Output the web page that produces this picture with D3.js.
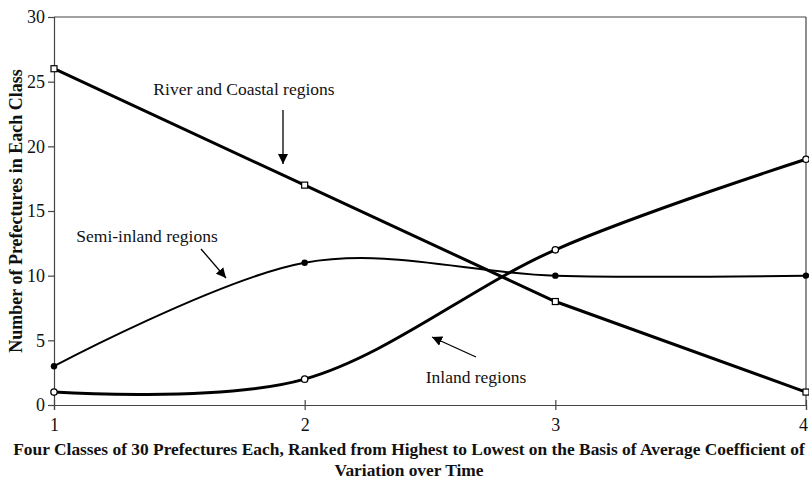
<!DOCTYPE html>
<html>
<head>
<meta charset="utf-8">
<script src="https://cdn.jsdelivr.net/npm/d3@7"></script>
<style>
body{margin:0;background:#fff;}
svg{display:block;}
text{font-family:"Liberation Serif","Times New Roman",serif;fill:#111;}
</style>
</head>
<body>
<svg id="chart" width="809" height="479"></svg>
<script>
const classes = [1, 2, 3, 4];
const riverCoastal = [26, 17, 8, 1];
const semiInland = [3, 11, 10, 10];
const inland = [1, 2, 12, 19];
const yTicks = [0, 5, 10, 15, 20, 25, 30];
const yTitle = "Number of Prefectures in Each Class";
const xTitle1 = "Four Classes of 30 Prefectures Each, Ranked from Highest to Lowest on the Basis of Average Coefficient of";
const xTitle2 = "Variation over Time";

const svg = d3.select("#chart");
const x = d3.scaleLinear().domain([1, 4]).range([54, 806]);
const y = d3.scaleLinear().domain([0, 30]).range([405, 17]);

// frame
svg.append("line").attr("x1", 54).attr("x2", 806).attr("y1", y(30)).attr("y2", y(30)).attr("stroke", "#444").attr("stroke-width", 1.2);
svg.append("line").attr("x1", x(4)).attr("x2", x(4)).attr("y1", y(30)).attr("y2", y(0)).attr("stroke", "#444").attr("stroke-width", 1.2);

// y axis
const yAxis = svg.append("g").attr("transform", `translate(${x(1)},0)`)
  .call(d3.axisLeft(y).tickValues(yTicks).tickSize(6).tickPadding(3));
yAxis.select(".domain").attr("stroke", "#444").attr("stroke-width", 1.2);
yAxis.selectAll(".tick line").attr("stroke", "#444").attr("stroke-width", 1.2);
yAxis.selectAll("text").style("font-size", "18px").style("font-family", "Liberation Serif").attr("fill", "#111");

// x axis
const xAxis = svg.append("g").attr("transform", `translate(0,${y(0)})`)
  .call(d3.axisBottom(x).tickValues(classes).tickFormat(d3.format("d")).tickSize(5).tickPadding(8));
xAxis.select(".domain").attr("stroke", "#444").attr("stroke-width", 1.2);
xAxis.selectAll(".tick line").attr("y1", -5).attr("stroke", "#444").attr("stroke-width", 1.2);
xAxis.selectAll("text").style("font-size", "18px").style("font-family", "Liberation Serif").attr("fill", "#111")
  .attr("dx", d => d === 4 ? -3 : 0);

// series
const straight = d3.line().x((d, i) => x(classes[i])).y(d => y(d));
const smooth = d3.line().x((d, i) => x(classes[i])).y(d => y(d)).curve(d3.curveCatmullRom.alpha(0));

svg.append("path").datum(riverCoastal).attr("d", straight).attr("fill", "none").attr("stroke", "#000").attr("stroke-width", 3);
svg.append("path").datum(semiInland).attr("d", smooth).attr("fill", "none").attr("stroke", "#000").attr("stroke-width", 2);
svg.append("path").datum(inland).attr("d", smooth).attr("fill", "none").attr("stroke", "#000").attr("stroke-width", 3);

// markers
svg.selectAll(".sq").data(riverCoastal).enter().append("rect")
  .attr("x", (d, i) => x(classes[i]) - 3).attr("y", d => y(d) - 3)
  .attr("width", 6).attr("height", 6).attr("fill", "#fff").attr("stroke", "#000").attr("stroke-width", 1.2);
svg.selectAll(".dm").data(semiInland).enter().append("circle")
  .attr("cx", (d, i) => x(classes[i])).attr("cy", d => y(d)).attr("r", 3.2).attr("fill", "#000");
svg.selectAll(".ci").data(inland).enter().append("circle")
  .attr("cx", (d, i) => x(classes[i])).attr("cy", d => y(d)).attr("r", 3.2).attr("fill", "#fff").attr("stroke", "#000").attr("stroke-width", 1.3);

// arrow marker
const defs = svg.append("defs");
defs.append("marker").attr("id", "ah").attr("viewBox", "0 0 10 10").attr("refX", 10).attr("refY", 5)
  .attr("markerWidth", 10).attr("markerHeight", 10).attr("markerUnits", "userSpaceOnUse").attr("orient", "auto")
  .append("path").attr("d", "M0,0 L10,5 L0,10 Z").attr("fill", "#000");

function arrow(x1, y1, x2, y2) {
  svg.append("line").attr("x1", x1).attr("y1", y1).attr("x2", x2).attr("y2", y2)
    .attr("stroke", "#000").attr("stroke-width", 1.3).attr("marker-end", "url(#ah)");
}

// annotations
svg.append("text").attr("x", 244).attr("y", 95).attr("text-anchor", "middle").style("font-size", "17.5px").text("River and Coastal regions");
arrow(283, 110, 283, 164);
svg.append("text").attr("x", 147).attr("y", 242).attr("text-anchor", "middle").style("font-size", "17.5px").text("Semi-inland regions");
arrow(201, 249, 226, 278);
svg.append("text").attr("x", 476).attr("y", 383).attr("text-anchor", "middle").style("font-size", "17.5px").text("Inland regions");
arrow(476, 357, 432, 337);

// axis titles
svg.append("text").attr("transform", `translate(22,${(y(0) + y(30)) / 2}) rotate(-90)`)
  .attr("text-anchor", "middle").style("font-size", "18px").style("font-weight", "bold").text(yTitle);
svg.append("text").attr("x", 409).attr("y", 455).attr("text-anchor", "middle")
  .style("font-size", "17.4px").style("font-weight", "bold").text(xTitle1);
svg.append("text").attr("x", 409).attr("y", 476).attr("text-anchor", "middle")
  .style("font-size", "17.4px").style("font-weight", "bold").text(xTitle2);
</script>
</body>
</html>
